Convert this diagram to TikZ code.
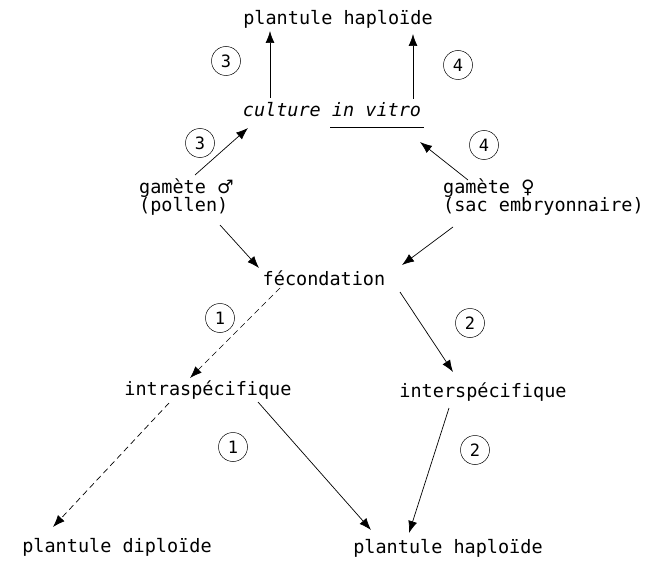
\documentclass[tikz,border=0pt]{standalone}
\usepackage{fontspec}
\setmonofont{DejaVu Sans Mono}
\newfontfamily\symfont{DejaVu Sans}
\usetikzlibrary{arrows.meta}
\tikzset{
  lbl/.style={font=\ttfamily\fontsize{18.5}{18.5}\selectfont, inner sep=0pt, align=left},
  num/.style={circle, draw, line width=0.5pt, minimum size=29pt, inner sep=0pt,
              font=\ttfamily\fontsize{17}{17}\selectfont},
  arr/.style={line width=0.7pt, -{Latex[length=12pt,width=9pt]}},
  darr/.style={arr, dash pattern=on 6pt off 4pt},
}
\begin{document}
\begin{tikzpicture}[x=1pt,y=-1pt]
\useasboundingbox (0,0) rectangle (656,567);
% labels
\node[lbl] (top)   at (338,19)  {plantule haploïde};
\node[lbl] (cult)  at (332,110) {\itshape culture in vitro};
\node[lbl, anchor=west] (male) at (139,197) {gamète {\symfont ♂}\\(pollen)};
\node[lbl, anchor=west] (fem)  at (443,197) {gamète {\symfont ♀}\\(sac embryonnaire)};
\node[lbl] (fec)   at (324,278) {fécondation};
\node[lbl] (intra) at (208,390) {intraspécifique};
\node[lbl] (inter) at (483,392) {interspécifique};
\node[lbl] (dip)   at (117,547) {plantule diploïde};
\node[lbl] (hap)   at (448,548) {plantule haploïde};
% underline beneath "in vitro"
\coordinate (ulA) at (330,127);
\coordinate (ulB) at (424,127);
\draw[line width=0.8pt] (ulA) -- (ulB);
% circled step numbers
\node[num] (n3a) at (226,61)  {3};
\node[num] (n4a) at (458,65)  {4};
\node[num] (n3b) at (200,143) {3};
\node[num] (n4b) at (484,145) {4};
\node[num] (n1a) at (220,318) {1};
\node[num] (n2a) at (470,323) {2};
\node[num] (n1b) at (233,447) {1};
\node[num] (n2b) at (475,450) {2};
% connector end points
\coordinate (cL)  at (270,98);   \coordinate (tL) at (270,31);
\coordinate (cR)  at (413,99);   \coordinate (tR) at (413,34);
\coordinate (mU)  at (195,175);  \coordinate (cSW) at (248,128);
\coordinate (fU)  at (468,180);  \coordinate (cSE) at (420,142);
\coordinate (mD)  at (220,225);  \coordinate (fecL) at (259,268);
\coordinate (fD)  at (453,227);  \coordinate (fecR) at (402,265);
\coordinate (fecA) at (280,288); \coordinate (intraN) at (190,378);
\coordinate (fecB) at (400,292); \coordinate (interN) at (453,372);
\coordinate (intraA) at (169,403); \coordinate (dipN) at (53,527);
\coordinate (intraB) at (258,402); \coordinate (hapA) at (371,530);
\coordinate (interA) at (449,408); \coordinate (hapB) at (409,533);
% connectors
\draw[arr]  (cL) -- (tL);
\draw[arr]  (cR) -- (tR);
\draw[arr]  (mU) -- (cSW);
\draw[arr]  (fU) -- (cSE);
\draw[arr]  (mD) -- (fecL);
\draw[arr]  (fD) -- (fecR);
\draw[darr] (fecA) -- (intraN);
\draw[arr]  (fecB) -- (interN);
\draw[darr] (intraA) -- (dipN);
\draw[arr]  (intraB) -- (hapA);
\draw[arr]  (interA) -- (hapB);
\end{tikzpicture}
\end{document}
